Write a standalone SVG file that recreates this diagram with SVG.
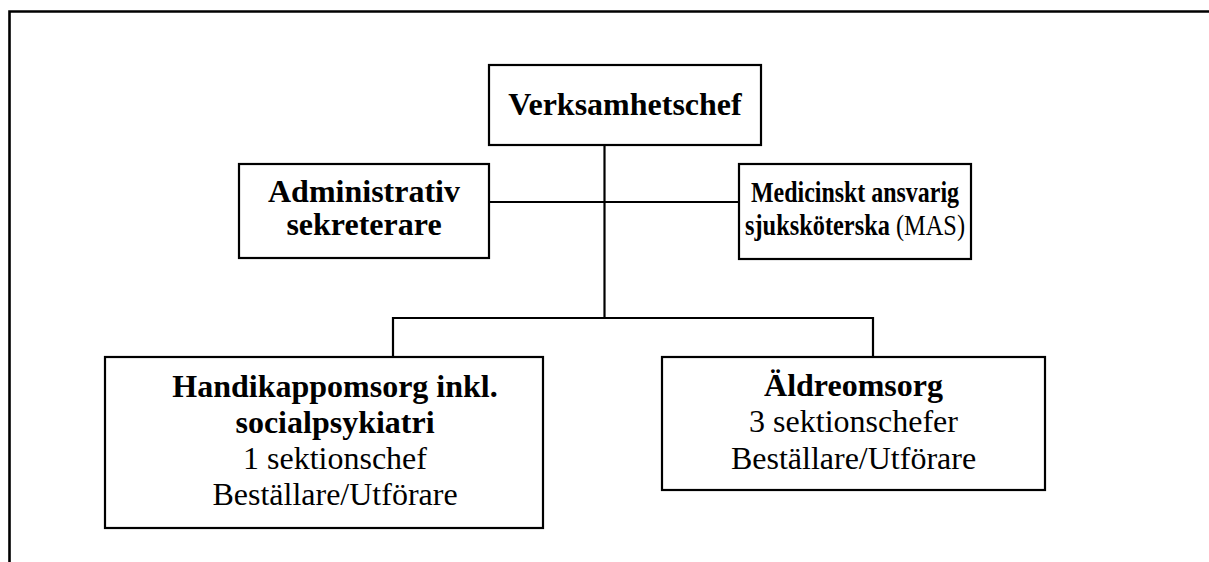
<svg xmlns="http://www.w3.org/2000/svg" width="1209" height="562" viewBox="0 0 1209 562">
<style>
.box{fill:#fff;stroke:#000;stroke-width:2.2}
.ln{fill:none;stroke:#000;stroke-width:2.2}
text{font-family:"Liberation Serif","Times New Roman",serif;font-size:32px;fill:#000;text-anchor:middle}
.b{font-weight:bold}
.s{font-size:29px}
</style>
<rect width="1209" height="562" fill="#fff"/>
<path d="M9.5 562 V11.5 H1209" fill="none" stroke="#000" stroke-width="2.6"/>
<g id="connectors">
<path class="ln" d="M604.5 145 V318"/>
<path class="ln" d="M489 202 H739"/>
<path class="ln" d="M393 357 V318 H873 V357"/>
</g>
<g id="verksamhetschef">
<rect class="box" x="489" y="65" width="272" height="80"/>
<text class="b" x="625" y="115">Verksamhetschef</text>
</g>
<g id="administrativ">
<rect class="box" x="239" y="164" width="250" height="94"/>
<text class="b" x="364" y="202">Administrativ</text>
<text class="b" x="364" y="235">sekreterare</text>
</g>
<g id="mas">
<rect class="box" x="739" y="164" width="232" height="95"/>
<text class="b s" x="855" y="202" textLength="208" lengthAdjust="spacingAndGlyphs">Medicinskt ansvarig</text>
<text class="s" x="855" y="235" textLength="220" lengthAdjust="spacingAndGlyphs"><tspan class="b">sjuksköterska</tspan> (MAS)</text>
</g>
<g id="handikapp">
<rect class="box" x="105" y="357" width="438" height="171"/>
<text class="b" x="335" y="397">Handikappomsorg inkl.</text>
<text class="b" x="335" y="433">socialpsykiatri</text>
<text x="335" y="469">1 sektionschef</text>
<text x="335" y="505">Beställare/Utförare</text>
</g>
<g id="aldreomsorg">
<rect class="box" x="662" y="357" width="383" height="133"/>
<text class="b" x="853.5" y="396">Äldreomsorg</text>
<text x="853.5" y="432">3 sektionschefer</text>
<text x="853.5" y="469">Beställare/Utförare</text>
</g>
</svg>
